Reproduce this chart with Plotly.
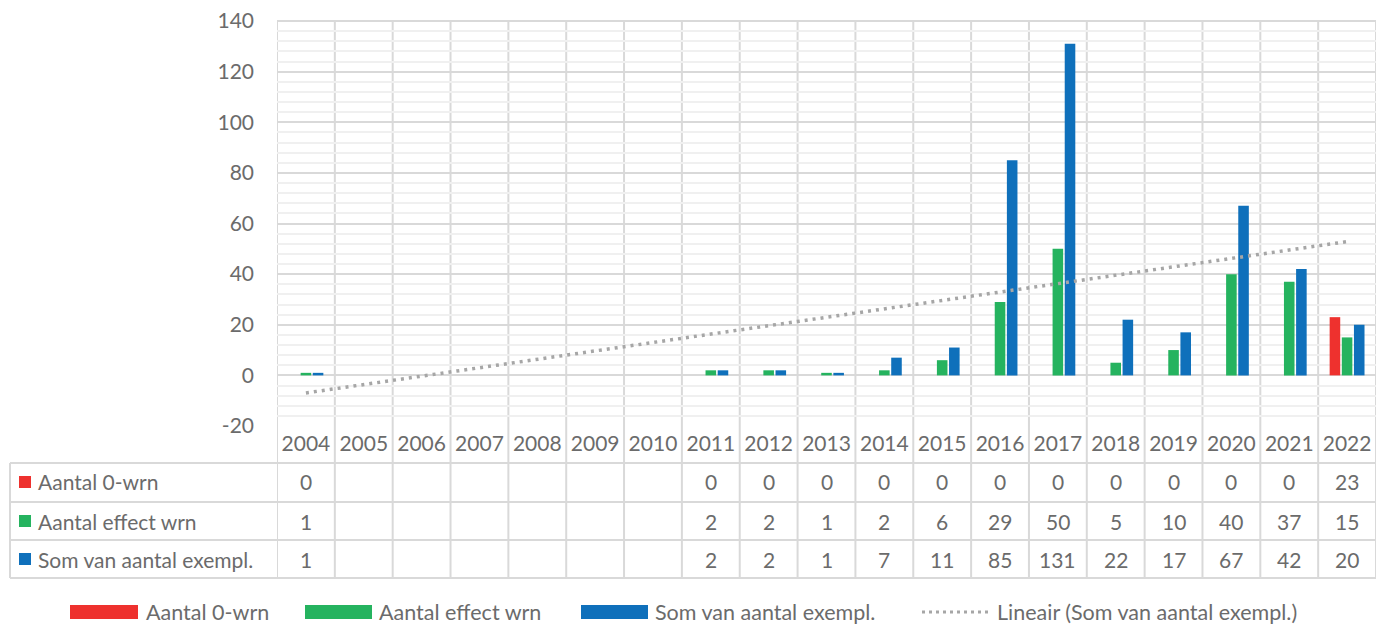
import numpy as np
import plotly.graph_objects as go

years = ["2004", "2005", "2006", "2007", "2008", "2009", "2010", "2011", "2012",
         "2013", "2014", "2015", "2016", "2017", "2018", "2019", "2020", "2021", "2022"]
nul_wrn = [0, None, None, None, None, None, None, 0, 0, 0, 0, 0, 0, 0, 0, 0, 0, 0, 23]
effect_wrn = [1, None, None, None, None, None, None, 2, 2, 1, 2, 6, 29, 50, 5, 10, 40, 37, 15]
som_exempl = [1, None, None, None, None, None, None, 2, 2, 1, 7, 11, 85, 131, 22, 17, 67, 42, 20]

series_names = ["Aantal 0-wrn", "Aantal effect wrn", "Som van aantal exempl."]
trend_name = "Lineair (Som van aantal exempl.)"
y_ticks = [-20, 0, 20, 40, 60, 80, 100, 120, 140]
y_ticktext = ["-20", "0", "20", "40", "60", "80", "100", "120", "140"]

RED, GREEN, BLUE = "#EE312E", "#25B35F", "#0F70BB"
TXT = "#6B6B6B"
GRID = "#D9D9D9"
FONT = "Lato"
FS = 21

# pixel geometry of the canvas
W, H = 1378, 627
L, R, T, B = 277, 2, 21, 201
PW, PH = W - L - R, H - T - B
def px(x):
    return (x - L) / PW
def py(y):
    return (H - B - y) / PH

fig = go.Figure()
colors = [RED, GREEN, BLUE]
for name, vals, c in zip(series_names, [nul_wrn, effect_wrn, som_exempl], colors):
    fig.add_trace(go.Bar(x=years, y=vals, name=name, marker=dict(color=c, line=dict(width=0)),
                         showlegend=False))

# linear trendline on Som series (category index as x)
idx = np.array([i for i, v in enumerate(som_exempl) if v is not None], dtype=float)
vals = np.array([v for v in som_exempl if v is not None], dtype=float)
slope, icpt = np.polyfit(idx + 1, vals, 1)
tx = [years[0], years[-1]]
ty = [slope * 1 + icpt, slope * len(years) + icpt]
fig.add_trace(go.Scatter(x=tx, y=ty, mode="lines", name=trend_name,
                         line=dict(color="#A6A6A6", width=3.5, dash="3px,5px"),
                         showlegend=False))

shapes = []
line_style = dict(color=GRID, width=2)
# vertical category lines through plot and table
for i in range(len(years) + 1):
    shapes.append(dict(type="line", xref="x", yref="paper", x0=i - 0.5, x1=i - 0.5,
                       y0=py(578), y1=1, line=line_style, layer="below"))
# left table border
shapes.append(dict(type="line", xref="paper", yref="paper", x0=px(10), x1=px(10),
                   y0=py(578), y1=py(463), line=line_style))
# horizontal table lines
for yy in [463, 502, 540, 578]:
    shapes.append(dict(type="line", xref="paper", yref="paper", x0=px(10), x1=1,
                       y0=py(yy), y1=py(yy), line=line_style))
shapes.append(dict(type="line", xref="paper", yref="paper", x0=0, x1=1,
                   y0=1, y1=1, line=line_style))

annotations = []
row_centers = [482, 521, 559]
for r, (name, vals_, c) in enumerate(zip(series_names, [nul_wrn, effect_wrn, som_exempl], colors)):
    yc = py(row_centers[r])
    shapes.append(dict(type="rect", xref="paper", yref="paper", x0=px(19), x1=px(31),
                       y0=yc - 6 / PH, y1=yc + 6 / PH, fillcolor=c, line=dict(width=0)))
    annotations.append(dict(xref="paper", yref="paper", x=px(36), y=yc, text=name,
                            showarrow=False, xanchor="left", yanchor="middle",
                            font=dict(family=FONT, size=FS, color=TXT)))
    for i, v in enumerate(vals_):
        if v is None:
            continue
        annotations.append(dict(xref="x", yref="paper", x=i, y=yc, text=str(v),
                                showarrow=False, xanchor="center", yanchor="middle",
                                font=dict(family=FONT, size=FS, color=TXT)))

# custom legend
leg_y = py(612)
leg_items = [(70, 138, 144, series_names[0], RED, "rect"),
             (305, 372, 377, series_names[1], GREEN, "rect"),
             (581, 648, 653, series_names[2], BLUE, "rect"),
             (922, 990, 995, trend_name, "#A6A6A6", "dot")]
for x0, x1, xt, text, c, kind in leg_items:
    if kind == "rect":
        shapes.append(dict(type="rect", xref="paper", yref="paper", x0=px(x0), x1=px(x1),
                           y0=leg_y - 7 / PH, y1=leg_y + 7 / PH, fillcolor=c, line=dict(width=0)))
    else:
        shapes.append(dict(type="line", xref="paper", yref="paper", x0=px(x0), x1=px(x1),
                           y0=leg_y, y1=leg_y, line=dict(color=c, width=3, dash="3px,4px")))
    annotations.append(dict(xref="paper", yref="paper", x=px(xt), y=leg_y, text=text,
                            showarrow=False, xanchor="left", yanchor="middle",
                            font=dict(family=FONT, size=FS + 0.5, color=TXT)))

fig.update_layout(
    width=W, height=H,
    margin=dict(l=L, r=R, t=T, b=B),
    paper_bgcolor="white", plot_bgcolor="white",
    barmode="group", bargap=0.37, bargroupgap=0.13,
    font=dict(family=FONT, size=FS, color=TXT),
    shapes=shapes, annotations=annotations,
    showlegend=False,
    xaxis=dict(type="category", showgrid=False, showline=False, zeroline=False,
               ticks="", tickfont=dict(family=FONT, size=FS, color=TXT),
               ticklabelstandoff=3, range=[-0.5, len(years) - 0.5]),
    yaxis=dict(range=[-20, 140], tickvals=y_ticks, ticktext=y_ticktext,
               showgrid=True, gridcolor=GRID, gridwidth=2,
               zeroline=True, zerolinecolor=GRID, zerolinewidth=2, showline=False,
               ticks="", ticklabelstandoff=22,
               tickfont=dict(family=FONT, size=FS, color=TXT),
               minor=dict(dtick=4, tick0=0, showgrid=True, gridcolor="#F0F0F0", gridwidth=2)),
)

fig.write_html("out.html", post_script="document.body.style.margin='0';",
               config={"displayModeBar": False})
